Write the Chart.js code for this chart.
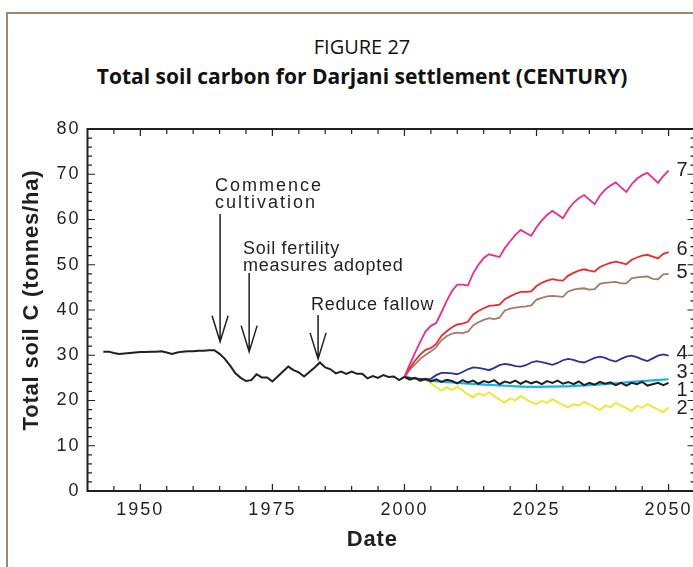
<!DOCTYPE html>
<html>
<head>
<meta charset="utf-8">
<script src="https://cdn.jsdelivr.net/npm/chart.js@4.4.0/dist/chart.umd.min.js"></script>
<style>
  html, body { margin: 0; padding: 0; background: #fff; overflow: hidden; }
  body { width: 693px; height: 567px; position: relative; }
  .frame { position: absolute; left: 6px; top: 12px; width: 800px; height: 800px; border: 2px solid #a38769; }
  .fig-no, .fig-title { position: absolute; left: 0; width: 724px; text-align: center; font-family: 'Open Sans', sans-serif; color: #111; line-height: 24px; }
  .fig-no { top: 35px; font-size: 20px; }
  .fig-title { top: 64px; font-size: 21px; font-weight: bold; }
  #wrap { position: absolute; left: 0; top: 0; width: 720px; height: 567px; }
</style>
</head>
<body>
<div class="frame"></div>
<div class="fig-no">FIGURE 27</div>
<div class="fig-title">Total soil carbon for Darjani settlement (CENTURY)</div>
<div id="wrap"><canvas id="chart"></canvas></div>
<script>
// historical run, one value a year from 1943
const histStart = 1943;
const histSoilC = [
  30.8, 30.8, 30.5, 30.3, 30.4, 30.5, 30.6, 30.7, 30.7, 30.8,
  30.8, 30.9, 30.6, 30.3, 30.6, 30.8, 30.9, 30.9, 31.0, 31.0,
  31.1, 31.1, 30.3, 29.2, 27.7, 26.0, 25.0, 24.3, 24.5, 25.8,
  25.1, 25.1, 24.2, 25.3, 26.4, 27.5, 26.7, 26.2, 25.3, 26.3,
  27.3, 28.4, 27.3, 26.9, 26.0, 26.4, 25.9, 26.4, 25.9, 25.9,
  24.9, 25.4, 25.0, 25.6, 25.2, 25.3, 24.5, 25.2
];

// scenarios, one value a year from 2000 to 2050
const scenStart = 2000;
const scen1 = [
  25.2, 24.6, 25.0, 24.4, 24.8, 24.2, 24.7, 24.1, 24.6, 24.3,
  23.8, 24.5, 24.0, 24.4, 23.7, 24.3, 24.0, 24.5, 23.6, 24.2,
  23.9, 24.4, 23.7, 24.3, 23.8, 24.2, 23.6, 24.3, 23.9, 24.4,
  23.7, 24.1, 23.6, 24.2, 23.4, 23.9, 23.5, 24.1, 23.7, 24.0,
  23.4, 23.9, 23.3, 23.9, 23.6, 24.1, 23.3, 23.6, 23.9, 23.4,
  23.9
];
const scen2 = [
  25.2, 24.6, 24.9, 24.2, 24.6, 23.8, 23.0, 22.2, 22.9, 22.3,
  23.0, 22.2, 21.4, 20.7, 21.6, 21.1, 21.8, 21.0, 20.2, 19.5,
  20.5, 20.0, 21.0, 20.3, 19.6, 19.2, 19.9, 19.5, 20.3, 19.6,
  19.0, 18.5, 19.2, 18.9, 19.7, 19.1, 18.5, 17.9, 18.9, 18.5,
  19.5, 18.9, 18.3, 17.7, 18.8, 18.4, 19.2, 18.6, 18.0, 17.4,
  18.5
];
// scenario 3 is a smooth curve, read every 5 years
const scen3Years = [2000, 2005, 2010, 2015, 2020, 2025, 2030, 2035, 2040, 2045, 2050];
const scen3 = [25.2, 24.4, 23.9, 23.5, 23.2, 23.0, 23.1, 23.4, 23.8, 24.3, 24.7];
const scen4 = [
  25.2, 25.0, 24.9, 24.8, 24.7, 24.8, 25.6, 26.1, 26.1, 26.0,
  25.8, 26.3, 26.9, 27.3, 27.2, 27.0, 26.7, 27.2, 27.8, 28.1,
  27.9, 27.6, 27.5, 27.8, 28.4, 28.7, 28.5, 28.2, 27.9, 28.3,
  28.9, 29.2, 29.0, 28.6, 28.4, 28.9, 29.4, 29.7, 29.4, 28.9,
  28.6, 29.2, 29.7, 29.9, 29.6, 29.1, 28.7, 29.3, 29.9, 30.2,
  29.9
];
const scen5 = [
  25.2, 26.8, 28.0, 29.2, 30.1, 30.8, 31.8, 33.3, 34.2, 34.8,
  35.0, 34.9, 35.2, 36.6, 37.3, 37.8, 38.2, 38.0, 38.3, 39.9,
  40.3, 40.5, 40.7, 40.8, 41.0, 42.3, 42.7, 43.0, 43.1, 43.0,
  42.9, 44.1, 44.5, 44.7, 44.8, 44.5, 44.6, 45.8, 46.0, 46.1,
  46.2, 45.9, 45.9, 47.0, 47.2, 47.3, 47.4, 46.9, 46.8, 47.9,
  48.0
];
const scen6 = [
  25.2, 27.2, 28.8, 30.2, 31.2, 31.6, 32.5, 34.3, 35.3, 36.2,
  36.8, 37.0, 37.4, 39.0, 39.8, 40.4, 40.9, 41.0, 41.2, 42.4,
  43.0, 43.6, 44.0, 44.0, 44.1, 45.3, 46.0, 46.5, 46.8, 46.6,
  46.5, 47.6, 48.2, 48.7, 49.0, 48.7, 48.5, 49.5, 50.0, 50.4,
  50.7, 50.4, 50.1, 51.1, 51.6, 52.0, 52.2, 51.8, 51.4, 52.4,
  52.8
];
const scen7 = [
  25.2, 28.0, 30.5, 33.0, 35.3, 36.5, 37.1, 39.5, 42.0, 44.2,
  45.6, 45.6, 45.4, 48.1, 50.0, 51.5, 52.3, 52.0, 51.7, 53.7,
  55.2, 56.6, 57.7, 57.0, 56.4, 58.3, 59.8, 61.0, 61.9, 61.1,
  60.3, 62.2, 63.7, 64.7, 65.4, 64.4, 63.4, 65.3, 66.6, 67.5,
  68.2, 67.1, 66.1, 67.8, 69.0, 69.8, 70.3, 69.2, 68.1, 69.6,
  70.8
];

const xTickValues = [1950, 1975, 2000, 2025, 2050];

// scenario numbers at the right end
const endLabels = ['7', '6', '5', '4', '3', '1', '2'];
const endLabelValues = [70.9, 53.3, 48.2, 30.4, 26.1, 22.3, 18.3];
const endLabelYear = 2051.5;

// events with arrows
const eventLabels = [['Commence', 'cultivation'], ['Soil fertility', 'measures adopted'], ['Reduce fallow']];
const eventLabelYears = [1964.15, 1969.45, 1982.3];
const eventLabelValues = [66.3, 52.3, 39.9];
const eventYears = [1965.1, 1970.6, 1983.65];
const arrowFrom = [61.2, 48.2, 38.9];
const arrowTo = [33.0, 30.8, 29.2];

const ink = '#231f20';
const fontFamily = "'Liberation Sans', Arial, sans-serif";
Chart.defaults.font.family = fontFamily;
Chart.defaults.color = ink;

function series(start, values) {
  return values.map((v, i) => ({ x: start + i, y: v }));
}

function line(data, color, width) {
  return { data: data, borderColor: color, borderWidth: width, pointRadius: 0, tension: 0, fill: false };
}

const decorations = {
  id: 'decorations',
  beforeDraw(chart) {
    chart.ctx.letterSpacing = '2px';
  },
  afterDraw(chart) {
    const { ctx, chartArea: a, scales: { x, y } } = chart;
    ctx.save();
    ctx.letterSpacing = '0px';
    ctx.strokeStyle = ink;
    ctx.fillStyle = ink;

    // box and inward ticks
    ctx.lineWidth = 2;
    ctx.strokeRect(a.left, a.top, a.right - a.left, a.bottom - a.top);
    ctx.lineWidth = 1.2;
    ctx.beginPath();
    for (let v = x.min + 5; v < x.max; v += 5) {
      const px = x.getPixelForValue(v);
      const len = v % 25 === 0 ? 7 : 5;
      ctx.moveTo(px, a.bottom); ctx.lineTo(px, a.bottom - len);
      ctx.moveTo(px, a.top); ctx.lineTo(px, a.top + len);
    }
    for (let v = y.min + 2; v < y.max; v += 2) {
      const py = y.getPixelForValue(v);
      const len = v % 10 === 0 ? 7.5 : 4.5;
      ctx.moveTo(a.left, py); ctx.lineTo(a.left + len, py);
      ctx.moveTo(a.right, py); ctx.lineTo(a.right - len, py);
    }
    ctx.stroke();

    // event arrows
    ctx.lineWidth = 1.5;
    ctx.beginPath();
    eventYears.forEach((yr, i) => {
      const px = x.getPixelForValue(yr);
      const tip = y.getPixelForValue(arrowTo[i]);
      ctx.moveTo(px, y.getPixelForValue(arrowFrom[i]));
      ctx.lineTo(px, tip);
      ctx.moveTo(px - 8, tip - 26);
      ctx.lineTo(px, tip);
      ctx.lineTo(px + 8, tip - 26);
    });
    ctx.stroke();

    // event labels
    const spacing = ['2px', '0.7px', '0.8px'];
    ctx.font = '18px ' + fontFamily;
    ctx.textAlign = 'left';
    ctx.textBaseline = 'alphabetic';
    eventLabels.forEach((lines, i) => {
      ctx.letterSpacing = spacing[i];
      const px = x.getPixelForValue(eventLabelYears[i]);
      const py = y.getPixelForValue(eventLabelValues[i]);
      lines.forEach((t, j) => ctx.fillText(t, px, py + j * 17));
    });

    // scenario numbers
    ctx.letterSpacing = '0px';
    ctx.font = '20px ' + fontFamily;
    ctx.textBaseline = 'middle';
    endLabels.forEach((t, i) => {
      ctx.fillText(t, x.getPixelForValue(endLabelYear), y.getPixelForValue(endLabelValues[i]));
    });

    // axis titles
    ctx.font = 'bold 22px ' + fontFamily;
    ctx.textAlign = 'center';
    ctx.letterSpacing = '0.8px';
    ctx.fillText('Date', (a.left + a.right) / 2 - 19, a.bottom + 49);
    ctx.translate(a.left - 56, (a.top + a.bottom) / 2 - 10);
    ctx.rotate(-Math.PI / 2);
    ctx.fillText('Total soil C (tonnes/ha)', 0, 0);
    ctx.restore();
    ctx.letterSpacing = '0px';
  }
};

new Chart(document.getElementById('chart'), {
  type: 'line',
  data: {
    datasets: [
      line(series(histStart, histSoilC), ink, 2),
      line(series(scenStart, scen1), ink, 2),
      line(series(scenStart, scen7), '#ec2a90', 1.8),
      line(series(scenStart, scen6), '#ee2a2a', 1.8),
      line(series(scenStart, scen5), '#a47b6a', 1.8),
      line(series(scenStart, scen4), '#2e3192', 1.8),
      Object.assign(line(scen3Years.map((yr, i) => ({ x: yr, y: scen3[i] })), '#13b5ea', 2.2), { cubicInterpolationMode: 'monotone' }),
      line(series(scenStart, scen2), '#f4e523', 1.8)
    ]
  },
  options: {
    responsive: true,
    maintainAspectRatio: false,
    animation: false,
    layout: { padding: { top: 129, right: 25, bottom: 0, left: 0 } },
    plugins: { legend: { display: false }, tooltip: { enabled: false } },
    scales: {
      x: {
        type: 'linear',
        min: 1940,
        max: 2055,
        grid: { display: false, drawTicks: false },
        border: { display: false },
        ticks: { font: { size: 18 }, color: ink, padding: 8, maxRotation: 0, autoSkip: false, callback: v => String(v) },
        afterBuildTicks: s => { s.ticks = xTickValues.map(v => ({ value: v })); },
        afterFit: s => { s.height = 76; }
      },
      y: {
        min: 0,
        max: 80,
        grid: { display: false, drawTicks: false },
        border: { display: false },
        ticks: { stepSize: 10, font: { size: 18 }, color: ink, padding: 7 },
        afterFit: s => { s.width = 87.5; }
      }
    }
  },
  plugins: [decorations]
});
</script>
</body>
</html>
